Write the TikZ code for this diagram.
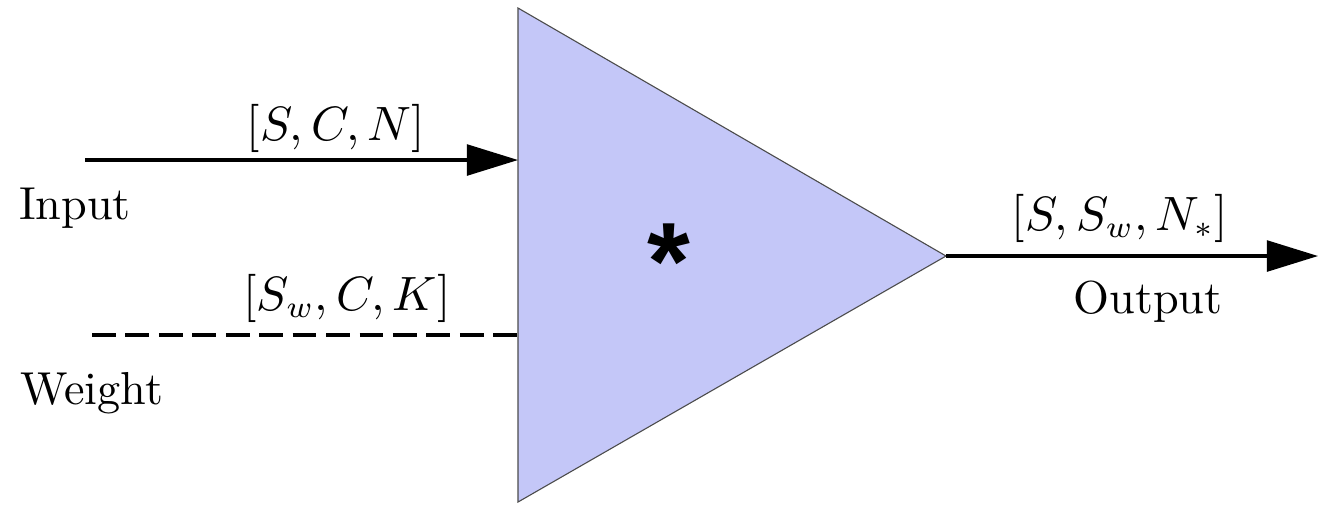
\documentclass[tikz,border=0pt]{standalone}
\usepackage{fontspec}
\usetikzlibrary{arrows.meta}
\newfontfamily\astfont{Liberation Sans}
\definecolor{tri}{RGB}{196,199,248}
\begin{document}
\begin{tikzpicture}[x=0.2273pt,y=-0.2273pt,
  conn/.style={line width=0.7pt},
  arr/.style={conn,-{Triangle[length=11.6pt,width=7pt]}},
  lbl/.style={inner sep=0pt,font=\fontsize{10.5}{12.6}\selectfont}]
\useasboundingbox (0,0) rectangle (1324,516);
\filldraw[fill=tri,draw=black!70,line width=0.25pt] (518,8) coordinate (tt) -- (946,256) coordinate (tip) -- (518,502) coordinate (tb) -- cycle;
\coordinate (inS) at (85,160);
\coordinate (inE) at (518,160);
\coordinate (wS) at (92,335);
\coordinate (wE) at (518,335);
\coordinate (outE) at (1318,256);
\draw[arr] (inS) -- (inE);
\draw[conn,dash pattern=on 5.4pt off 2.2pt] (wS) -- (wE);
\draw[arr] (tip) -- (outE);
\node[lbl] (l1) at (336,128) {$[S,C,N]$};
\node[lbl] (l2) at (75,208) {Input};
\node[lbl] (l3) at (347,298) {$[S_w,C,K]$};
\node[lbl] (l4) at (92,393) {Weight};
\node[lbl] (l5) at (1120,218) {$[S,S_w,N_*]$};
\node[lbl] (l6) at (1148,302) {Output};
\node[lbl] (ast) at (669,262) {\astfont\bfseries\fontsize{25}{30}\selectfont *};
\end{tikzpicture}
\end{document}
